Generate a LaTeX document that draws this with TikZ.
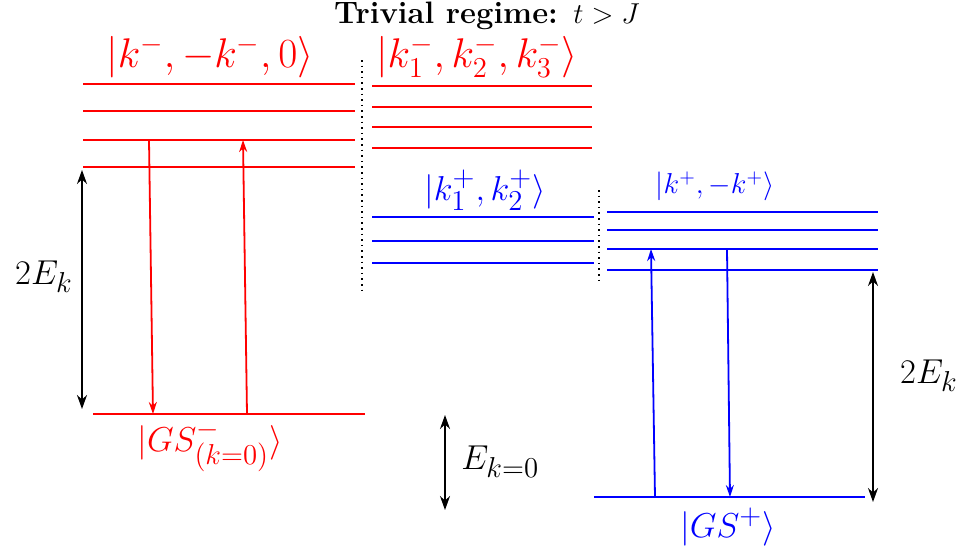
\documentclass[tikz,border=0pt]{standalone}
\usetikzlibrary{arrows.meta}
\begin{document}
\begin{tikzpicture}[x=0.5pt,y=-0.5pt,
 lev/.style={line width=1pt},
 tr/.style={line width=0.9pt,-{Stealth[length=6pt,width=4pt]}},
 dbl/.style={line width=0.9pt,{Stealth[length=7pt,width=5pt]}-{Stealth[length=7pt,width=5pt]}},
 sep/.style={line width=0.8pt,dotted},
 lab/.style={font=\fontsize{19}{22}\selectfont, inner sep=0pt},
 blab/.style={font=\fontsize{21}{24}\selectfont, inner sep=0pt},
 slab/.style={font=\fontsize{14}{17}\selectfont, inner sep=0pt}]
\useasboundingbox (0,0) rectangle (970,552);
% title
\node[font=\fontsize{15.5}{18}\selectfont\bfseries, inner sep=0pt] (title) at (487,16) {Trivial regime: $t>J$};
% left red block
\foreach \y in {84,111,140,167} \draw[lev,red] (83,\y) -- (355,\y);
\node[blab,red] (lk) at (210,57) {$|k^-,-k^-,0\rangle$};
\draw[lev,red] (93,414) -- (365,414);
\node[lab,red] (gsm) at (210,446) {$|GS^-_{(k=0)}\rangle$};
\coordinate (a1s) at (149,140); \coordinate (a1e) at (153,414);
\draw[tr,red] (a1s) -- (a1e);
\coordinate (a2s) at (247,414); \coordinate (a2e) at (243,140);
\draw[tr,red] (a2s) -- (a2e);
% separator 1
\coordinate (s1a) at (362,60); \coordinate (s1b) at (362,292);
\draw[sep] (s1a) -- (s1b);
% middle red block
\foreach \y in {86,107,127,148} \draw[lev,red] (372,\y) -- (592,\y);
\node[blab,red] (mk) at (477,57) {$|k_1^-,k_2^-,k_3^-\rangle$};
% middle blue block
\foreach \y in {217,241,263} \draw[lev,blue] (372,\y) -- (594,\y);
\node[lab,blue] (mb) at (485,190) {$|k_1^+,k_2^+\rangle$};
% separator 2
\coordinate (s2a) at (599,190); \coordinate (s2b) at (599,280);
\draw[sep] (s2a) -- (s2b);
% right blue block
\foreach \y in {212,230,249,270} \draw[lev,blue] (607,\y) -- (878,\y);
\node[slab,blue] (rk) at (715,186) {$|k^+,-k^+\rangle$};
\draw[lev,blue] (594,497) -- (865,497);
\node[lab,blue] (gsp) at (728,527) {$|GS^+\rangle$};
\coordinate (b1s) at (655,497); \coordinate (b1e) at (651,249);
\draw[tr,blue] (b1s) -- (b1e);
\coordinate (b2s) at (727,249); \coordinate (b2e) at (730,497);
\draw[tr,blue] (b2s) -- (b2e);
% energy arrows
\coordinate (e1a) at (82,170); \coordinate (e1b) at (82,409);
\draw[dbl] (e1a) -- (e1b);
\node[lab] (e1) at (44,277) {$2E_k$};
\coordinate (e2a) at (873,272); \coordinate (e2b) at (873,502);
\draw[dbl] (e2a) -- (e2b);
\node[lab] (e2) at (929,376) {$2E_k$};
\coordinate (e3a) at (445,415); \coordinate (e3b) at (445,510);
\draw[dbl] (e3a) -- (e3b);
\node[lab,anchor=west] (e3) at (461,462) {$E_{k=0}$};
\end{tikzpicture}
\end{document}
